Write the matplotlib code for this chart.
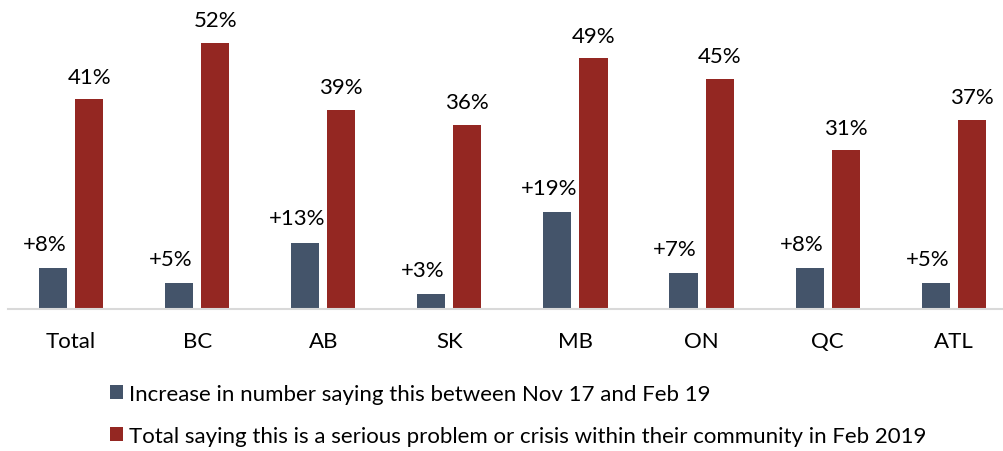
import numpy as np
import matplotlib
matplotlib.use('Agg')
import matplotlib.pyplot as plt

# Data
regions = ['Total', 'BC', 'AB', 'SK', 'MB', 'ON', 'QC', 'ATL']
increase = [8, 5, 13, 3, 19, 7, 8, 5]
total_feb19 = [41, 52, 39, 36, 49, 45, 31, 37]

label_increase = 'Increase in number saying this between Nov 17 and Feb 19'
label_total = 'Total saying this is a serious problem or crisis within their community in Feb 2019'

blue = '#44546A'
red = '#942722'
fs = 16

plt.rcParams['font.family'] = ['Lato', 'DejaVu Sans']

W, H = 1004, 452
fig = plt.figure(figsize=(W / 100, H / 100), dpi=100)
# axes: left at 8px, right at image edge, baseline at 310px from top
ax = fig.add_axes([8 / W, (H - 310) / H, 996 / W, 306 / H])

x = np.arange(len(regions))
bw = 0.223
off = 0.143
b1 = ax.bar(x - off, increase, bw, color=blue, label=label_increase)
b2 = ax.bar(x + off, total_feb19, bw, color=red, label=label_total)

# value labels (blue ones sit a little left of their bars, as in the original)
for xi, v in zip(x - off, increase):
    ax.annotate(f'+{v}%', (xi, v), xytext=(-6, 13), textcoords='offset points',
                ha='center', va='baseline', fontsize=fs)
for xi, v in zip(x + off, total_feb19):
    ax.annotate(f'{v}%', (xi, v), xytext=(0, 12), textcoords='offset points',
                ha='center', va='baseline', fontsize=fs)

ax.set_xlim(-0.5, -0.5 + 996 / 126.1)
ax.set_ylim(0, 306 / 5.115)
ax.set_xticks(x)
ax.set_xticklabels(regions, fontsize=fs)
ax.tick_params(axis='x', length=0, pad=16)
ax.set_yticks([])
for s in ['top', 'right', 'left']:
    ax.spines[s].set_visible(False)
ax.spines['bottom'].set_color('#D9D9D9')
ax.spines['bottom'].set_linewidth(1.5)

fig.legend(handles=[b1, b2], loc='upper left',
           bbox_to_anchor=(110 / W, 1 - 385 / H),
           frameon=False, fontsize=fs, borderpad=0, borderaxespad=0,
           handlelength=0.6, handleheight=0.6, handletextpad=0.25,
           labelspacing=1.0)

fig.savefig('out.png', dpi=100)
